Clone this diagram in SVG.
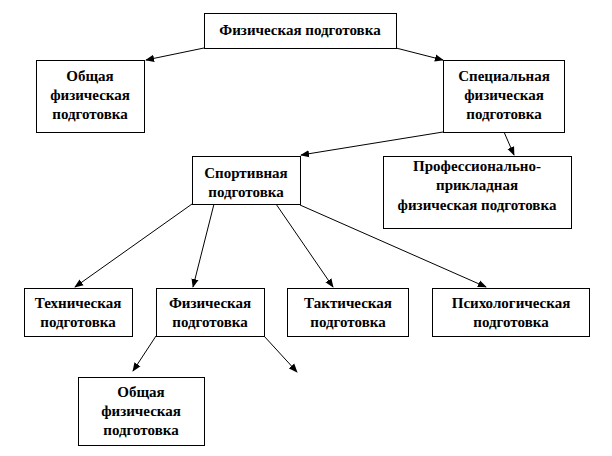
<svg xmlns="http://www.w3.org/2000/svg" width="612" height="456" viewBox="0 0 612 456">
<style>
.box{fill:#fff;stroke:#000;stroke-width:1}
.t{font-family:'Liberation Serif','DejaVu Serif',serif;font-size:15px;font-weight:bold;text-anchor:middle;fill:#000}
.c{stroke:#000;stroke-width:1;fill:none;marker-end:url(#ah)}
</style>
<defs>
<marker id="ah" viewBox="0 0 10 10" refX="9" refY="5" markerWidth="9" markerHeight="9" markerUnits="userSpaceOnUse" orient="auto">
<path d="M0,1 L10,5 L0,9 Z" fill="#000"/>
</marker>
</defs>
<rect width="612" height="456" fill="#fff"/>
<g id="connectors">
<line class="c" x1="204" y1="48" x2="146" y2="60"/>
<line class="c" x1="396" y1="48" x2="443" y2="60"/>
<line class="c" x1="443" y1="132" x2="301" y2="155"/>
<line class="c" x1="504" y1="132" x2="514" y2="155"/>
<line class="c" x1="192" y1="204" x2="75" y2="287"/>
<line class="c" x1="214" y1="204" x2="193" y2="287"/>
<line class="c" x1="276" y1="204" x2="333" y2="287"/>
<line class="c" x1="300" y1="205" x2="486" y2="287"/>
<line class="c" x1="156" y1="336" x2="133" y2="371"/>
<line class="c" x1="264" y1="336" x2="297" y2="372"/>
</g>
<g id="n-fiz">
<rect class="box" x="204.5" y="13.5" width="192" height="35"/>
<text class="t" x="300" y="35">Физическая подготовка</text>
</g>
<g id="n-obsh">
<rect class="box" x="36.5" y="60.5" width="108" height="72"/>
<text class="t" x="90" y="81">Общая</text>
<text class="t" x="90" y="100">физическая</text>
<text class="t" x="90" y="119">подготовка</text>
</g>
<g id="n-spec">
<rect class="box" x="443.5" y="60.5" width="121" height="72"/>
<text class="t" x="504" y="81">Специальная</text>
<text class="t" x="504" y="100">физическая</text>
<text class="t" x="504" y="119">подготовка</text>
</g>
<g id="n-sport">
<rect class="box" x="192.5" y="156.5" width="108" height="48"/>
<text class="t" x="246" y="178">Спортивная</text>
<text class="t" x="246" y="197">подготовка</text>
</g>
<g id="n-prof">
<rect class="box" x="383.5" y="156.5" width="188" height="72"/>
<text class="t" x="477" y="171">Профессионально-</text>
<text class="t" x="477" y="190">прикладная</text>
<text class="t" x="477" y="210">физическая подготовка</text>
</g>
<g id="n-tech">
<rect class="box" x="24.5" y="288.5" width="108" height="48"/>
<text class="t" x="78" y="308">Техническая</text>
<text class="t" x="78" y="327">подготовка</text>
</g>
<g id="n-fiz2">
<rect class="box" x="156.5" y="288.5" width="108" height="48"/>
<text class="t" x="210" y="308">Физическая</text>
<text class="t" x="210" y="327">подготовка</text>
</g>
<g id="n-takt">
<rect class="box" x="287.5" y="288.5" width="121" height="48"/>
<text class="t" x="348" y="308">Тактическая</text>
<text class="t" x="348" y="327">подготовка</text>
</g>
<g id="n-psih">
<rect class="box" x="432.5" y="288.5" width="157" height="48"/>
<text class="t" x="511" y="308">Психологическая</text>
<text class="t" x="511" y="327">подготовка</text>
</g>
<g id="n-obsh2">
<rect class="box" x="78.5" y="377.5" width="126" height="68"/>
<text class="t" x="141" y="397">Общая</text>
<text class="t" x="141" y="416">физическая</text>
<text class="t" x="141" y="435">подготовка</text>
</g>
</svg>
